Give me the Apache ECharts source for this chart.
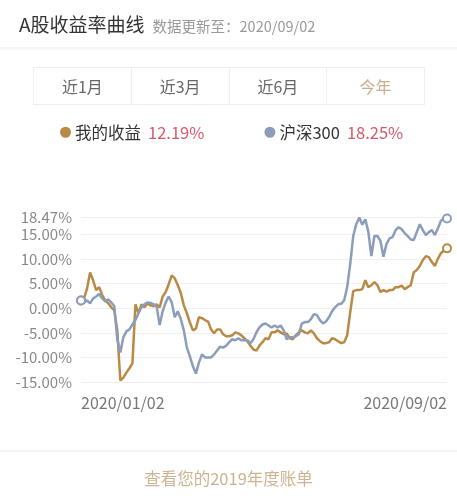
<!DOCTYPE html>
<html>
<head>
<meta charset="utf-8">
<script src="https://cdn.jsdelivr.net/npm/echarts@6/dist/echarts.min.js"></script>
<style>
  html, body { margin: 0; padding: 0; background: #fff; }
  body { width: 457px; height: 500px; position: relative; overflow: hidden;
         font-family: "Noto Sans CJK SC", "Noto Sans", sans-serif; }
  #chart { position: absolute; left: 0; top: 0; width: 457px; height: 500px; }
  .title { position: absolute; left: 19px; top: 10px; font-size: 19px; color: #333; white-space: nowrap; }
  .title span { font-size: 14.5px; color: #999; margin-left: 8px; }
  .sep1 { position: absolute; left: 0; top: 47px; width: 457px; height: 3px; background: #f6f6f6; }
  .tabs { position: absolute; left: 33px; top: 67px; width: 392px; height: 38px;
          border: 1px solid #eeeeee; box-sizing: border-box; display: flex; }
  .tab { flex: 1; text-align: center; line-height: 36px; font-size: 16px; color: #666;
         border-left: 1px solid #eeeeee; }
  .tab:first-child { border-left: none; }
  .tab.active { color: #c9b08c; }
  .sep2 { position: absolute; left: 0; top: 450px; width: 457px; height: 2px; background: #f3f3f3; }
  .footer { position: absolute; left: 0; top: 466px; width: 457px; text-align: center;
            font-size: 16.5px; color: #cdb38f; }
</style>
</head>
<body>
<div id="chart"></div>
<div class="title">A股收益率曲线<span>数据更新至：2020/09/02</span></div>
<div class="sep1"></div>
<div class="tabs">
  <div class="tab">近1月</div><div class="tab">近3月</div><div class="tab">近6月</div><div class="tab active">今年</div>
</div>
<div class="sep2"></div>
<div class="footer">查看您的2019年度账单</div>
<script>
// ---- data (percent) ----
const xLabels = ['2020/01/02', '2020/09/02'];
const seriesNames = ['我的收益', '沪深300'];
const latestReturns = ['12.19%', '18.25%'];
const yMin = -15, yMax = 18.47, yInterval = 5;

const myReturn = [
  1.6, 2.0, 4.0, 7.3, 5.7, 3.7, 4.3, 2.7, 1.6, 1.0,
  0.2, -0.4, -4.5, -14.7, -14.1, -13.1, -12.2, -11.2, 0.8, -1.0,
  0.8, 0.2, 1.0, 0.6, 0.4, 0.8, 0.2, 2.4, 3.3, 4.9,
  6.7, 6.1, 4.7, 3.1, 0.6, -1.0, -2.9, -4.5, -4.1, -1.8,
  -2.0, -2.4, -2.7, -4.3, -5.1, -4.3, -4.3, -5.3, -5.7, -5.7,
  -5.5, -4.9, -5.1, -5.5, -6.1, -6.7, -7.6, -8.4, -8.6, -7.6,
  -6.9, -6.1, -6.3, -4.9, -4.9, -4.5, -4.9, -5.3, -5.1, -6.1,
  -6.3, -5.5, -4.9, -4.5, -4.9, -5.1, -4.5, -5.1, -6.1, -6.7,
  -7.1, -7.1, -6.9, -6.1, -6.3, -6.7, -7.1, -6.9, -5.5, -0.8,
  3.5, 3.7, 3.7, 3.9, 5.7, 4.3, 4.7, 5.3, 4.7, 3.3,
  3.7, 3.4, 3.7, 3.7, 4.3, 4.3, 4.6, 3.9, 4.3, 4.7,
  7.3, 7.8, 8.6, 9.8, 10.6, 10.4, 9.4, 8.6, 10.1, 11.2,
  11.8, 12.19
];
const hs300 = [
  1.6, 1.2, 1.6, 1.0, 2.0, 2.4, 2.9, 2.0, 1.4, 1.8,
  1.2, 0.4, -6.3, -9.0, -5.9, -4.7, -4.3, -3.3, -2.4, -1.0,
  0.2, 0.8, 1.2, 1.1, 0.8, 0.4, -3.4, -0.6, 1.2, 2.4,
  1.2, -1.8, -0.6, -2.2, -4.5, -8.0, -9.8, -11.8, -13.3, -11.0,
  -9.4, -10.0, -10.0, -10.0, -9.4, -8.6, -7.8, -8.0, -7.6, -6.9,
  -6.3, -6.5, -6.1, -6.5, -6.5, -6.5, -7.1, -6.3, -4.9, -3.9,
  -3.3, -3.1, -3.5, -3.9, -3.5, -3.9, -3.5, -4.5, -6.3, -5.9,
  -5.9, -5.7, -5.3, -3.1, -2.8, -2.8, -2.2, -1.2, -1.4, -2.4,
  -3.1, -2.7, -1.8, -0.6, 0.2, 0.8, 0.9, 1.6, 4.3, 9.0,
  14.7, 17.1, 18.47, 17.0, 18.1, 15.5, 10.6, 14.7, 14.7, 13.7,
  10.5, 13.1, 14.2, 14.5, 15.9, 16.5, 16.1, 15.3, 14.7, 14.0,
  13.9, 15.5, 17.1, 15.9, 14.9, 15.5, 15.9, 14.9, 16.3, 17.8,
  18.3, 18.25
];
const colors = ['#b98a45', '#8b9dbb'];

const lastIdx = myReturn.length - 1;
const toPairs = arr => arr.map((v, i) => [i, v]);
const endSymbol = (val, params) =>
  (params.dataIndex === 0 || params.dataIndex === lastIdx) ? 'emptyCircle' : 'none';

const chart = echarts.init(document.getElementById('chart'), null, { renderer: 'canvas' });
const makeSeries = (name, arr, color) => ({
  name, type: 'line', data: toPairs(arr),
  showSymbol: true, showAllSymbol: true,
  symbol: endSymbol, symbolSize: 8,
  itemStyle: { color: color, borderColor: color, borderWidth: 1.5 },
  lineStyle: { color: color, width: 2.5 },
  emphasis: { disabled: true },
  animation: false
});
chart.setOption({
  animation: false,
  textStyle: { fontFamily: '"Noto Sans CJK SC", "Noto Sans", sans-serif' },
  color: colors,
  legend: {
    left: 60, top: 124, itemGap: 60, padding: 0,
    icon: 'circle', itemWidth: 9, itemHeight: 9,
    selectedMode: false,
    data: seriesNames,
    formatter: name => '{n|' + name + '}{v|' + latestReturns[seriesNames.indexOf(name)] + '}',
    textStyle: {
      rich: {
        n: { fontSize: 16.5, color: '#333' },
        v: { fontSize: 16.5, color: '#d35a6a', padding: [0, 0, 0, 7] }
      }
    }
  },
  grid: { left: 81, right: 10, top: 217.5, bottom: 118, containLabel: false },
  xAxis: {
    type: 'value', min: 0, max: lastIdx, interval: lastIdx,
    axisLine: { show: false }, axisTick: { show: false }, splitLine: { show: false },
    axisLabel: {
      color: '#777', fontSize: 16, margin: 13,
      alignMinLabel: 'left', alignMaxLabel: 'right',
      formatter: v => v === 0 ? xLabels[0] : (v === lastIdx ? xLabels[1] : '')
    }
  },
  yAxis: {
    type: 'value', min: yMin, max: yMax, interval: yInterval,
    axisLine: { show: false }, axisTick: { show: false },
    splitLine: { lineStyle: { color: '#f0f0f0', width: 1 } },
    axisLabel: { color: '#888', fontSize: 15, margin: 9, formatter: v => v.toFixed(2) + '%' }
  },
  series: [
    makeSeries(seriesNames[0], myReturn, colors[0]),
    makeSeries(seriesNames[1], hs300, colors[1])
  ]
});
</script>
</body>
</html>
